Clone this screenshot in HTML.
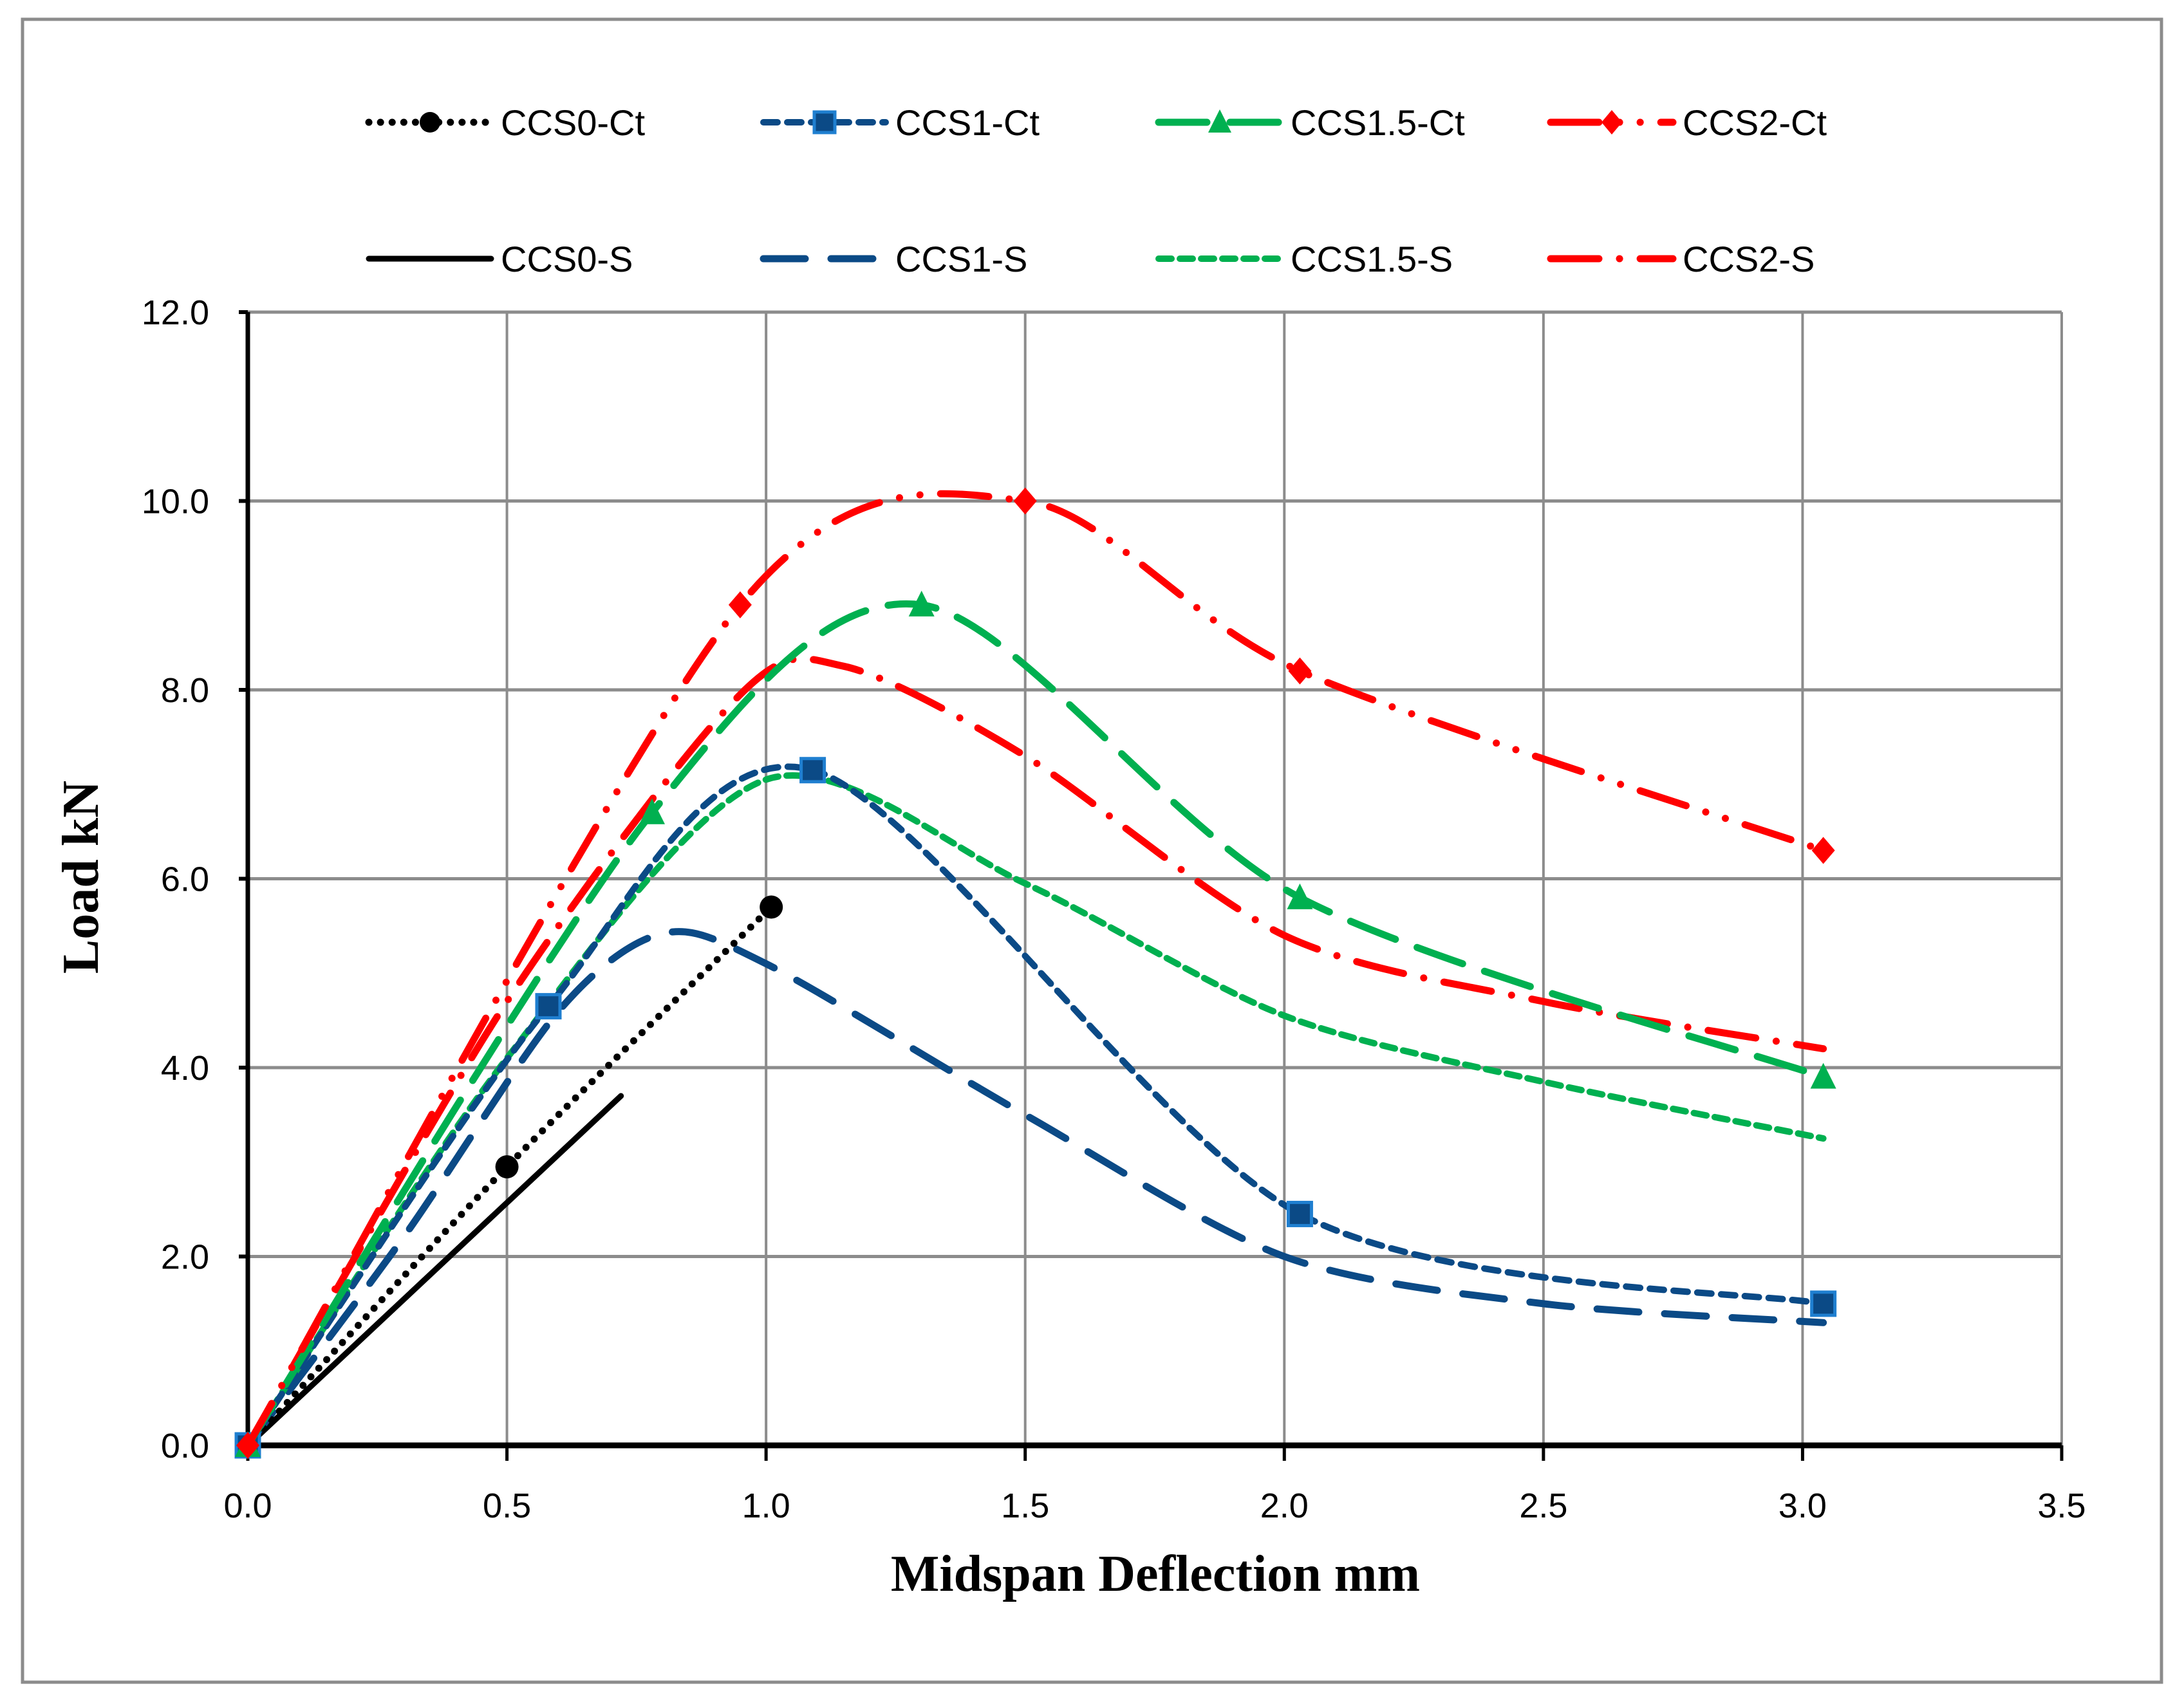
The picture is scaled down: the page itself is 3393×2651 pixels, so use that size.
<!DOCTYPE html>
<html><head><meta charset="utf-8"><style>
html,body{margin:0;padding:0;background:#fff;}
svg{display:block;}
</style></head><body>
<svg id="chart" width="3393" height="2651" viewBox="0 0 3393 2651" xmlns="http://www.w3.org/2000/svg" font-family="Liberation Sans, sans-serif">
<rect x="35" y="30" width="3323" height="2584" fill="#fff" stroke="#8c8c8c" stroke-width="5"/>
<g id="grid"></g>
<g id="axes"></g>
<g id="series"></g>
<g id="legend"></g>
<text x="1795" y="2472" text-anchor="middle" font-family="Liberation Serif, serif" font-weight="bold" font-size="80">Midspan Deflection mm</text>
<text transform="translate(152,1363) rotate(-90)" text-anchor="middle" font-family="Liberation Serif, serif" font-weight="bold" font-size="80">Load kN</text>
</svg>
<script>
const xTicks = [0, 0.5, 1.0, 1.5, 2.0, 2.5, 3.0, 3.5];
const yTicks = [0, 2, 4, 6, 8, 10, 12];
const seriesNames = ["CCS0-Ct","CCS1-Ct","CCS1.5-Ct","CCS2-Ct","CCS0-S","CCS1-S","CCS1.5-S","CCS2-S"];
const ccs0CtX = [0, 0.5, 1.01];
const ccs0CtY = [0, 2.95, 5.7];
const ccs1CtX = [0, 0.58, 1.09, 2.03, 3.04];
const ccs1CtY = [0, 4.65, 7.15, 2.45, 1.5];
const ccs15CtX = [0, 0.78, 1.3, 2.03, 3.04];
const ccs15CtY = [0, 6.7, 8.9, 5.8, 3.9];
const ccs2CtX = [0, 0.95, 1.5, 2.03, 3.04];
const ccs2CtY = [0, 8.9, 10.0, 8.2, 6.3];
const ccs0SX = [0, 0.72];
const ccs0SY = [0, 3.7];
const ccs1SX = [0, 0.3, 0.6, 0.8, 1.0, 1.5, 2.0, 2.5, 3.04];
const ccs1SY = [0, 2.2, 4.6, 5.42, 5.1, 3.5, 2.0, 1.5, 1.3];
const ccs15SX = [0, 0.5, 1.0, 1.5, 2.0, 2.5, 3.04];
const ccs15SY = [0, 4.1, 7.05, 5.95, 4.55, 3.85, 3.25];
const ccs2SX = [0, 0.5, 0.95, 1.15, 1.5, 2.0, 2.5, 3.04];
const ccs2SY = [0, 4.7, 7.95, 8.25, 7.3, 5.4, 4.7, 4.2];

const NS = "http://www.w3.org/2000/svg";
const X0 = 385, X1 = 3203, Y0 = 2246, Y1 = 485;
function xs(v){ return X0 + v/3.5*(X1-X0); }
function ys(v){ return Y0 - v/12*(Y0-Y1); }
function mk(tag, attrs, parent){ const e = document.createElementNS(NS, tag); for (const k in attrs) e.setAttribute(k, attrs[k]); parent.appendChild(e); return e; }

const grid = document.getElementById('grid');
const axes = document.getElementById('axes');
xTicks.forEach(t => {
  if (t > 0) {
    const l = mk('line', {x1: xs(t), x2: xs(t), y1: Y1, y2: Y0, stroke: '#8c8c8c', 'stroke-width': 4}, grid);
    
    
  }
  const tk = mk('line', {x1: xs(t), x2: xs(t), y1: Y0, y2: Y0+24, stroke: '#000', 'stroke-width': 5}, axes);
  
  
  const tx = mk('text', {x: xs(t), y: 2358, 'text-anchor': 'middle', 'font-size': 54, fill: '#000'}, axes);
  tx.textContent = t.toFixed(1);
  
  
});
yTicks.forEach(t => {
  if (t > 0) {
    const l = mk('line', {x1: X0, x2: X1, y1: ys(t), y2: ys(t), stroke: '#8c8c8c', 'stroke-width': 5}, grid);
    
    
  }
  const tk = mk('line', {x1: X0-14, x2: X0, y1: ys(t), y2: ys(t), stroke: '#000', 'stroke-width': 6}, axes);
  
  
  const tx = mk('text', {x: 325, y: ys(t)+19, 'text-anchor': 'end', 'font-size': 54, fill: '#000'}, axes);
  tx.textContent = t.toFixed(1);
  
  
});
const xa = mk('line', {x1: X0, x2: X1, y1: Y0, y2: Y0, stroke: '#000', 'stroke-width': 9}, axes);


const ya = mk('line', {x1: X0, x2: X0, y1: Y1, y2: Y0, stroke: '#000', 'stroke-width': 7}, axes);



function smoothPath(px, py){
  const P = px.map((x,i)=>[xs(x), ys(py[i])]);
  if (P.length < 3) return 'M' + P.map(p=>p.join(',')).join(' L');
  let d = 'M' + P[0][0] + ',' + P[0][1];
  for (let i=0;i<P.length-1;i++){
    const p0 = P[i-1]||P[i], p1=P[i], p2=P[i+1], p3=P[i+2]||P[i+1];
    const t = 1/7;
    const c1 = [p1[0]+(p2[0]-p0[0])*t, p1[1]+(p2[1]-p0[1])*t];
    const c2 = [p2[0]-(p3[0]-p1[0])*t, p2[1]-(p3[1]-p1[1])*t];
    d += ' C'+c1.join(',')+' '+c2.join(',')+' '+p2.join(',');
  }
  return d;
}
const styles = [
  {x: ccs0CtX, y: ccs0CtY, c:'#000', dash:'0.1,18', w:11, m:'circle', mc:'#000'},
  {x: ccs1CtX, y: ccs1CtY, c:'#0b4a86', dash:'22,15', w:10, m:'square', mc:'#0b4a86'},
  {x: ccs15CtX, y: ccs15CtY, c:'#00b050', dash:'75,36', w:11, m:'triangle', mc:'#00b050'},
  {x: ccs2CtX, y: ccs2CtY, c:'#ff0000', dash:'75,32,0.1,32,0.1,32', w:11, m:'diamond', mc:'#ff0000'},
  {x: ccs0SX, y: ccs0SY, c:'#000', dash:'', w:9, m:null},
  {x: ccs1SX, y: ccs1SY, c:'#0b4a86', dash:'65,40', w:11, m:null},
  {x: ccs15SX, y: ccs15SY, c:'#00b050', dash:'20,13', w:10, m:null},
  {x: ccs2SX, y: ccs2SY, c:'#ff0000', dash:'75,32,0.1,32', w:11, m:null}
];
function marker(type, cx, cy, col, parent, size){
  const s = size || 18;
  let e;
  if (type==='circle') e = mk('circle',{cx:cx,cy:cy,r:s,fill:col},parent);
  else if (type==='square') e = mk('rect',{x:cx-s,y:cy-s,width:2*s,height:2*s,fill:col,stroke:'#1f7fd0','stroke-width':5},parent);
  else if (type==='triangle') e = mk('polygon',{points:`${cx},${cy-s-4} ${cx+s+2},${cy+s} ${cx-s-2},${cy+s}`,fill:col},parent);
  else e = mk('polygon',{points:`${cx},${cy-s-3} ${cx+s},${cy} ${cx},${cy+s+3} ${cx-s},${cy}`,fill:col},parent);
  return e;
}
const sg = document.getElementById('series');
const order = [4,5,6,7,0,1,2,3];
order.forEach(i => {
  const s = styles[i];
  const p = mk('path',{d: smoothPath(s.x, s.y), fill:'none', stroke:s.c, 'stroke-width':s.w, 'stroke-dasharray':s.dash, 'stroke-linecap':'round'}, sg);
  
  
  if (s.m) {
    s.x.forEach((xv, j) => {
      const m = marker(s.m, xs(xv), ys(s.y[j]), s.mc, sg);
      
      
    });
  }
});

const lg = document.getElementById('legend');
const lx = [573, 1186, 1800, 2409];
const ly = [190, 402];
styles.forEach((s, i) => {
  const row = i < 4 ? 0 : 1, col = i % 4;
  const x = lx[col], y = ly[row];
  const g = mk('g', {}, lg);
  
  
  mk('line',{x1:x, x2:x+190, y1:y, y2:y, stroke:s.c, 'stroke-width':s.w, 'stroke-dasharray':s.dash, 'stroke-linecap':'round'}, g);
  if (s.m) marker(s.m, x+95, y, s.mc, g, 16);
  const t = mk('text',{x:x+205, y:y+20, 'font-size':56, fill:'#000'}, g);
  t.textContent = seriesNames[i];
});
</script>
</body></html>
